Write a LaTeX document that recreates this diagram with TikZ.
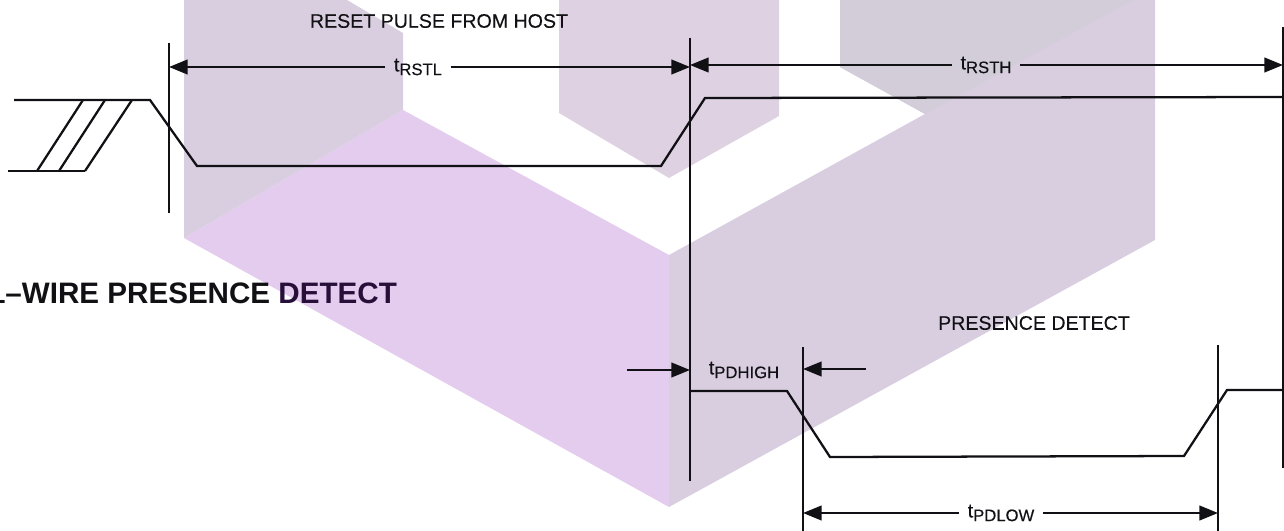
\documentclass[tikz,border=0pt]{standalone}
\usepackage{fontspec}
\setmainfont{Liberation Sans}
\newfontfamily\scanfont[FakeBold=0.25]{Liberation Sans}
\usetikzlibrary{arrows.meta}
\definecolor{wmPurple}{HTML}{E3CCEE}
\definecolor{wmLav}{HTML}{D9CEE0}
\definecolor{wmMid}{HTML}{DED2E2}
\definecolor{wmGray}{HTML}{D3CDD9}
\definecolor{ink}{HTML}{111014}
\definecolor{detectInk}{HTML}{26103A}
\newcommand{\tsub}[1]{t\raisebox{-0.36ex}{\fontsize{12.5}{13}\selectfont #1}}
\tikzset{
  wire/.style={draw=ink,line width=1.7pt,line join=miter},
  mark line/.style={draw=ink,line width=1.6pt},
  dim/.style={draw=ink,line width=1.6pt,-{Triangle[length=14pt,width=11pt]}},
  lbl/.style={text=ink,inner sep=0pt,outer sep=0pt,font=\fontsize{14.7}{16}\selectfont\scanfont},
  dimlbl/.style={lbl,inner xsep=6.5pt,inner ysep=2pt},
  title/.style={text=ink,inner sep=0pt,outer sep=0pt,font=\fontsize{22.2}{25}\selectfont\bfseries}
}
\begin{document}
\begin{tikzpicture}[x=0.75pt,y=-0.75pt]
\useasboundingbox (0,0) rectangle (1284,531);
% watermark
\fill[wmPurple] (184,238) -- (403,110) -- (669,255) -- (669,507) -- cycle;
\fill[wmLav] (184,0) -- (347,0) -- (403,33) -- (403,110) -- (184,238) -- cycle;
\fill[wmMid] (559,0) -- (779,0) -- (779,116) -- (669,178) -- (559,113) -- cycle;
\fill[wmLav] (669,255) -- (925,114) -- (840,67) -- (840,0) -- (1155,0) -- (1155,240) -- (669,507) -- cycle;
\fill[wmGray] (840,0) -- (1133,0) -- (925,114) -- (840,67) -- cycle;
% marker lines
\coordinate (v1t) at (169,43);  \coordinate (v1b) at (169,213);
\coordinate (v2t) at (690,38);  \coordinate (v2b) at (690,481);
\coordinate (v3t) at (803,347); \coordinate (v3b) at (803,531);
\coordinate (v4t) at (1218,345);\coordinate (v4b) at (1218,531);
\coordinate (v5t) at (1283,27); \coordinate (v5b) at (1283,468);
\draw[mark line] (v1t) -- (v1b);
\draw[mark line] (v2t) -- (v2b);
\draw[mark line] (v3t) -- (v3b);
\draw[mark line] (v4t) -- (v4b);
\draw[mark line] (v5t) -- (v5b);
% upper waveform
\coordinate (a0) at (14,100);  \coordinate (a1) at (150,100);
\coordinate (a2) at (197,166); \coordinate (a3) at (661,166);
\coordinate (a4) at (705,98);  \coordinate (a5) at (1284,97);
\draw[wire] (a0) -- (a1) -- (a2) -- (a3) -- (a4) -- (a5);
\coordinate (b0) at (8,171); \coordinate (b1) at (85,171);
\draw[wire] (b0) -- (b1);
\coordinate (h1b) at (37,171); \coordinate (h1t) at (83,100);
\coordinate (h2b) at (59,171); \coordinate (h2t) at (105,100);
\coordinate (h3t) at (132,100);
\draw[wire] (h1b) -- (h1t);
\draw[wire] (h2b) -- (h2t);
\draw[wire] (b1) -- (h3t);
% lower waveform
\coordinate (c0) at (690,391);  \coordinate (c1) at (787,391);
\coordinate (c2) at (830,457);  \coordinate (c3) at (1184,456);
\coordinate (c4) at (1227,390); \coordinate (c5) at (1283,390);
\draw[wire] (c0) -- (c1) -- (c2) -- (c3) -- (c4) -- (c5);
% texts
\node[lbl] (reset) at (439,21) {RESET PULSE FROM HOST};
\node[lbl] (presence) at (1034,323) {PRESENCE DETECT};
\node[title,anchor=west] (wire) at (-11,293) {1–WIRE PRESENCE \textcolor{detectInk}{DETECT}};
\node[dimlbl] (trstl) at (418,67) {\tsub{RSTL}};
\node[dimlbl] (trsth) at (986,65) {\tsub{RSTH}};
\node[lbl] (tpdhigh) at (744,370) {\tsub{PDHIGH}};
\node[dimlbl] (tpdlow) at (1001,513) {\tsub{PDLOW}};
% dimension arrows
\draw[dim] (trstl.west) -- (trstl.west -| v1t);
\draw[dim] (trstl.east) -- (trstl.east -| v2t);
\draw[dim] (trsth.west) -- (trsth.west -| v2t);
\draw[dim] (trsth.east) -- (trsth.east -| v5t);
\draw[dim] (tpdlow.west) -- (tpdlow.west -| v3t);
\draw[dim] (tpdlow.east) -- (tpdlow.east -| v4t);
\coordinate (pl) at (627,370); \coordinate (pr) at (866,369);
\draw[dim] (pl) -- (pl -| v2t);
\draw[dim] (pr) -- (pr -| v3t);
\end{tikzpicture}
\end{document}
